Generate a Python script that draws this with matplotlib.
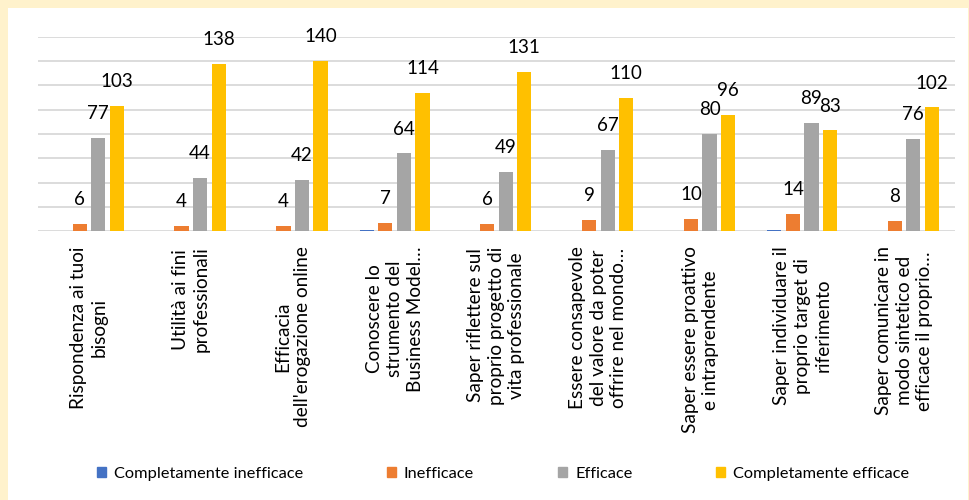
import matplotlib
matplotlib.use("Agg")
import matplotlib.pyplot as plt
import matplotlib.patches as mpatches
import numpy as np

categories = [
    "Rispondenza ai tuoi\nbisogni",
    "Utilità ai fini\nprofessionali",
    "Efficacia\ndell'erogazione online",
    "Conoscere lo\nstrumento del\nBusiness Model…",
    "Saper riflettere sul\nproprio progetto di\nvita professionale",
    "Essere consapevole\ndel valore da poter\noffrire nel mondo…",
    "Saper essere proattivo\ne intraprendente",
    "Saper individuare il\nproprio target di\nriferimento",
    "Saper comunicare in\nmodo sintetico ed\nefficace il proprio…",
]
series_names = ["Completamente inefficace", "Inefficace", "Efficace", "Completamente efficace"]
comp_inefficace = [0, 0, 0, 1, 0, 0, 0, 1, 0]
inefficace = [6, 4, 4, 7, 6, 9, 10, 14, 8]
efficace = [77, 44, 42, 64, 49, 67, 80, 89, 76]
comp_efficace = [103, 138, 140, 114, 131, 110, 96, 83, 102]
show_labels = [False, True, True, True]

colors = ["#4472C4", "#ED7D31", "#A5A5A5", "#FFC000"]
series = [comp_inefficace, inefficace, efficace, comp_efficace]

FONT = ["Lato", "DejaVu Sans"]

W, H = 970, 500
fig = plt.figure(figsize=(W / 100, H / 100), dpi=100, facecolor="#FFF2CC")
# white panel
bg = fig.add_axes([8 / W, 0, (968 - 8) / W, 1 - 8 / H], zorder=-10)
bg.set_facecolor("white")
bg.set_xticks([])
bg.set_yticks([])
for s in bg.spines.values():
    s.set_visible(False)

ax = fig.add_axes([38 / W, 1 - 231 / H, (955 - 38) / W, (231 - 37) / H], zorder=1)
ax.set_facecolor("none")
x = np.arange(len(categories))
step = 0.182
bw = 0.14
for i, (vals, col) in enumerate(zip(series, colors)):
    pos = x + (i - 1.5) * step
    ax.bar(pos, vals, width=bw, color=col, zorder=3, label=series_names[i])
    if show_labels[i]:
        for p, v in zip(pos, vals):
            ax.annotate(str(v), (p, v), xytext=(0, 17.5), textcoords="offset points",
                        ha="center", va="center", fontsize=13.5,
                        family=FONT, color="#000000", zorder=4)

ax.set_xlim(-0.5, len(categories) - 0.5)
ax.set_ylim(0, 160)
ax.set_yticks(np.arange(0, 161, 20))
ax.yaxis.grid(True, color="#D9D9D9", linewidth=1.3, zorder=0)
ax.tick_params(axis="y", length=0, labelleft=False)
ax.tick_params(axis="x", length=0, pad=11)
for s in ["top", "right", "left", "bottom"]:
    ax.spines[s].set_visible(False)
ax.set_xticks(x)
ax.set_xticklabels(categories, rotation=90, fontsize=13.7, family=FONT,
                   linespacing=1.25, color="#000000")
for lab in ax.get_xticklabels():
    lab.set_multialignment("center")

handles = [mpatches.Patch(color=c, label=n) for c, n in zip(colors, series_names)]
leg = fig.legend(handles=handles, loc="center", bbox_to_anchor=(503 / W, 1 - 474 / H),
                 ncol=4, frameon=False, prop={"family": FONT, "size": 11.8},
                 handlelength=0.55, handleheight=0.55, handletextpad=0.5,
                 columnspacing=5.1)

fig.savefig("out.png", dpi=100, facecolor=fig.get_facecolor())
